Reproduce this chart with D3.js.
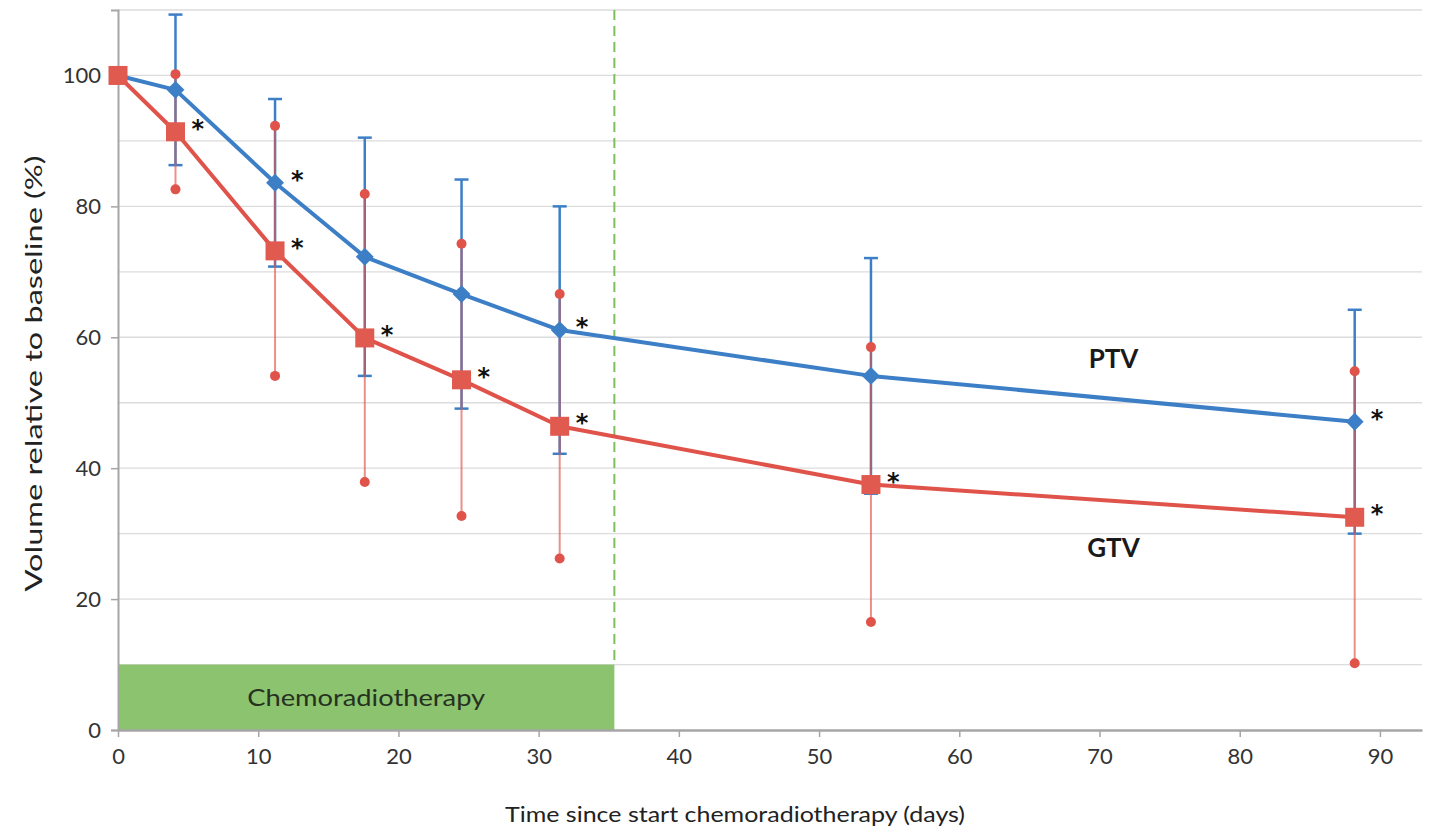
<!DOCTYPE html>
<html>
<head>
<meta charset="utf-8">
<script src="https://cdn.jsdelivr.net/npm/d3@7/dist/d3.min.js"></script>
<style>
  html, body { margin: 0; padding: 0; background: #ffffff; }
  svg { display: block; font-family: Lato, "Open Sans", "DejaVu Sans", sans-serif; }
</style>
</head>
<body>
<svg id="chart" width="1434" height="829"></svg>
<script>
// Measurement days since start of chemoradiotherapy
const days = [0, 4.1, 11.2, 17.6, 24.5, 31.5, 53.7, 88.2];

// PTV volume relative to baseline (%), mean and standard deviation
const ptvMean = [100, 97.8, 83.6, 72.3, 66.6, 61.1, 54.1, 47.1];
const ptvSD   = [0, 11.5, 12.8, 18.2, 17.5, 18.9, 18.0, 17.1];
const ptvSig  = [false, false, true, false, false, true, false, true];

// GTV volume relative to baseline (%), mean and standard deviation
const gtvMean = [100, 91.4, 73.2, 59.9, 53.5, 46.4, 37.5, 32.5];
const gtvSD   = [0, 8.8, 19.1, 22.0, 20.8, 20.2, 21.0, 22.3];
const gtvSig  = [false, true, true, true, true, true, true, true];

// Treatment period (days) and axis ticks
const chemoEnd = 35.4;
const chemoHeight = 10;
const xTicks = [0, 10, 20, 30, 40, 50, 60, 70, 80, 90];
const yTicks = [0, 20, 40, 60, 80, 100];
const yGrid = [10, 20, 30, 40, 50, 60, 70, 80, 90, 100, 110];

const svg = d3.select("#chart");
const plotLeft = 118, plotRight = 1422, plotTop = 10, plotBottom = 730;

const x = d3.scaleLinear().domain([0, 93]).range([plotLeft, plotRight]);
const y = d3.scaleLinear().domain([0, 110]).range([plotBottom, plotTop]);

const blue = "#3d7fc6";
const red = "#e0534a";

// Horizontal gridlines
svg.append("g").selectAll("line").data(yGrid).join("line")
  .attr("x1", plotLeft).attr("x2", plotRight)
  .attr("y1", d => y(d)).attr("y2", d => y(d))
  .attr("stroke", "#dcdcdc").attr("stroke-width", 1.3);

// Chemoradiotherapy period band
svg.append("rect")
  .attr("x", x(0)).attr("y", y(chemoHeight))
  .attr("width", x(chemoEnd) - x(0)).attr("height", y(0) - y(chemoHeight))
  .attr("fill", "#8cc36f");
svg.append("text")
  .attr("x", (x(0) + x(chemoEnd)) / 2).attr("y", y(chemoHeight / 2))
  .attr("dy", "0.35em")
  .attr("text-anchor", "middle").attr("font-size", 24).attr("fill", "#26321f")
  .attr("textLength", 238).attr("lengthAdjust", "spacingAndGlyphs")
  .text("Chemoradiotherapy");

// End of chemoradiotherapy marker
svg.append("line")
  .attr("x1", x(chemoEnd)).attr("x2", x(chemoEnd))
  .attr("y1", y(110)).attr("y2", y(chemoHeight))
  .attr("stroke", "#7dbf5e").attr("stroke-width", 2)
  .attr("stroke-dasharray", "10,6");

// Y axis
const yAxis = d3.axisLeft(y).tickValues(yTicks).tickSize(7).tickPadding(10);
const gy = svg.append("g").attr("transform", `translate(${plotLeft},0)`).call(yAxis);
gy.select(".domain").attr("stroke", "#a6a6a6").attr("stroke-width", 2);
gy.selectAll(".tick line").attr("stroke", "#a6a6a6").attr("stroke-width", 1.5);
gy.selectAll(".tick text").attr("font-size", 22).attr("fill", "#333")
  .attr("font-family", "Lato, sans-serif");

// X axis
const xAxis = d3.axisBottom(x).tickValues(xTicks).tickSize(7).tickPadding(11).tickSizeOuter(0);
const gx = svg.append("g").attr("transform", `translate(0,${plotBottom})`).call(xAxis);
gx.select(".domain").attr("stroke", "#a6a6a6").attr("stroke-width", 2.5);
gx.selectAll(".tick line").attr("stroke", "#a6a6a6").attr("stroke-width", 1.5);
gx.selectAll(".tick text").attr("font-size", 22).attr("fill", "#333")
  .attr("font-family", "Lato, sans-serif");

// Axis titles
svg.append("text")
  .attr("x", 735).attr("y", 822)
  .attr("text-anchor", "middle").attr("font-size", 22).attr("fill", "#222")
  .attr("textLength", 460).attr("lengthAdjust", "spacingAndGlyphs")
  .text("Time since start chemoradiotherapy (days)");
svg.append("text")
  .attr("transform", `translate(42,${(155 + 592) / 2}) rotate(-90)`)
  .attr("text-anchor", "middle").attr("font-size", 24).attr("fill", "#222")
  .attr("textLength", 436).attr("lengthAdjust", "spacingAndGlyphs")
  .text("Volume relative to baseline (%)");

const idx = d3.range(days.length).filter(i => days[i] > 0);

// PTV error bars with caps
const eb = svg.append("g");
idx.forEach(i => {
  const cx = x(days[i]);
  const hi = y(ptvMean[i] + ptvSD[i]), lo = y(ptvMean[i] - ptvSD[i]);
  eb.append("line").attr("x1", cx).attr("x2", cx).attr("y1", hi).attr("y2", lo)
    .attr("stroke", blue).attr("stroke-width", 2.5);
  [hi, lo].forEach(v => eb.append("line")
    .attr("x1", cx - 7).attr("x2", cx + 7).attr("y1", v).attr("y2", v)
    .attr("stroke", blue).attr("stroke-width", 2.5));
});

// GTV error bars with dot ends
idx.forEach(i => {
  const cx = x(days[i]);
  const hi = y(gtvMean[i] + gtvSD[i]), lo = y(gtvMean[i] - gtvSD[i]);
  eb.append("line").attr("x1", cx).attr("x2", cx).attr("y1", hi).attr("y2", lo)
    .attr("stroke", red).attr("stroke-width", 2).attr("stroke-opacity", 0.65);
  [hi, lo].forEach(v => eb.append("circle")
    .attr("cx", cx).attr("cy", v).attr("r", 5).attr("fill", red));
});

// Mean lines
const ptvPts = days.map((d, i) => [d, ptvMean[i]]);
const gtvPts = days.map((d, i) => [d, gtvMean[i]]);
const line = d3.line().x(d => x(d[0])).y(d => y(d[1]));

svg.append("path").datum(ptvPts).attr("d", line)
  .attr("fill", "none").attr("stroke", blue).attr("stroke-width", 4)
  .attr("stroke-linejoin", "round");
svg.append("path").datum(gtvPts).attr("d", line)
  .attr("fill", "none").attr("stroke", red).attr("stroke-width", 4)
  .attr("stroke-linejoin", "round");

// PTV diamond markers
svg.append("g").selectAll("path").data(ptvPts).join("path")
  .attr("d", d3.symbol().type(d3.symbolSquare).size(160))
  .attr("transform", d => `translate(${x(d[0])},${y(d[1])}) rotate(45)`)
  .attr("fill", blue);

// GTV square markers
svg.append("g").selectAll("rect").data(gtvPts).join("rect")
  .attr("x", d => x(d[0]) - 9.5).attr("y", d => y(d[1]) - 9.5)
  .attr("width", 19).attr("height", 19)
  .attr("fill", "#e05a50");

// Significance asterisks
const star = svg.append("g").attr("font-size", 24).attr("font-weight", "bold")
  .attr("fill", "#111").attr("font-family", "DejaVu Sans, sans-serif");
idx.forEach(i => {
  if (ptvSig[i]) star.append("text")
    .attr("x", x(days[i]) + 16).attr("y", y(ptvMean[i]) + 5).text("*");
  if (gtvSig[i]) star.append("text")
    .attr("x", x(days[i]) + 16).attr("y", y(gtvMean[i]) + 5).text("*");
});

// Series labels
svg.append("text").attr("x", x(71)).attr("y", y(56.8)).attr("dy", "0.36em")
  .attr("text-anchor", "middle").attr("font-size", 26).attr("font-weight", "bold")
  .attr("fill", "#1a1a1a").text("PTV");
svg.append("text").attr("x", x(71)).attr("y", y(27.8)).attr("dy", "0.36em")
  .attr("text-anchor", "middle").attr("font-size", 26).attr("font-weight", "bold")
  .attr("fill", "#1a1a1a").text("GTV");
</script>
</body>
</html>
